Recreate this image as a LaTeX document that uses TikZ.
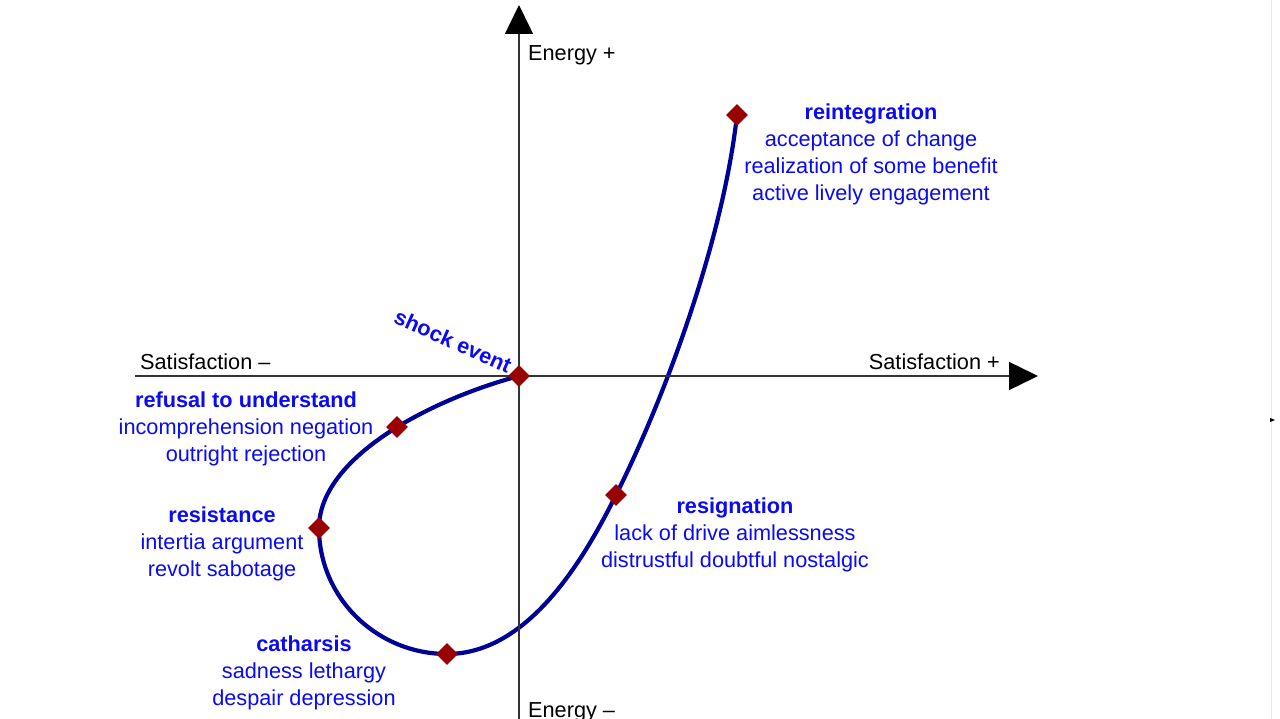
\documentclass[tikz,border=0pt]{standalone}
\usepackage{fontspec}
\setmainfont{Liberation Sans}
\usepackage{tikz}
\usetikzlibrary{positioning,shapes.geometric,arrows.meta,backgrounds}

\definecolor{curveblue}{HTML}{000099}
\definecolor{markred}{HTML}{990000}
\definecolor{textblue}{HTML}{0A0AF5}

\begin{document}
\begin{tikzpicture}[x=1pt,y=-1pt]
                \tikzstyle{axis} = [draw=black!80, line width=1.5pt, -{Triangle[length=29pt,width=28pt,color=black]}]
                \tikzstyle{axislabel} = [font=\fontsize{21.7}{27}\selectfont, inner sep=0pt]
                \tikzstyle{stage} = [diamond, fill=markred, inner sep=0pt, minimum size=22pt]
                \tikzstyle{phase} = [font=\fontsize{21.7}{27}\selectfont, text=textblue, align=center, inner sep=0pt]
                \tikzstyle{curve} = [draw=curveblue, line width=4.2pt]
                \useasboundingbox (0,0) rectangle (1280,719);
                \draw[black!8, line width=1pt] (1271,0) -- (1271,719);
                \fill[black] (1270,418) -- (1275,420) -- (1270,422) -- cycle;

                % axes
                \draw [axis] (519,719) -- (519,5);
                \draw [axis] (135,376) -- (1038,376);
                \node (eplus) [axislabel, anchor=west] at (528,55) {Energy +};
                \node (eminus) [axislabel, anchor=west] at (528,712) {Energy --};
                \node (sminus) [axislabel, anchor=west] at (140,362) {Satisfaction --};
                \node (splus) [axislabel, anchor=east] at (1000,362) {Satisfaction +};

                % stages
                \node (shock) [stage] at (519,376) {};
                \node (refusal) [stage] at (397,427) {};
                \node (resist) [stage] at (319,528) {};
                \node (cathar) [stage] at (447,654) {};
                \node (resign) [stage] at (616,495) {};
                \node (reint) [stage] at (737,115) {};

                \begin{pgfonlayer}{background}
                \fill[white] (0,0) rectangle (1280,719);
                \draw [curve] (shock.center) .. controls (429,400) and (319,458) .. (resist.center)
                    .. controls (319,598) and (377,654) .. (cathar.center)
                    .. controls (530,654) and (586,555) .. (resign.center)
                    .. controls (666,395) and (723,240) .. (reint.center);
                \end{pgfonlayer}

                % texts
                \node (shocktext) [phase, rotate=-24] at (453,341) {\textbf{shock event}};
                \node (refusaltext) [phase] at (246,429) {\textbf{refusal to understand}\\incomprehension negation\\outright rejection};
                \node (resisttext) [phase] at (222,544) {\textbf{resistance}\\intertia argument\\revolt sabotage};
                \node (cathartext) [phase] at (304,673) {\textbf{catharsis}\\sadness lethargy\\despair depression};
                \node (resigntext) [phase] at (735,535) {\textbf{resignation}\\lack of drive aimlessness\\distrustful doubtful nostalgic};
                \node (reinttext) [phase] at (871,154) {\textbf{reintegration}\\acceptance of change\\realization of some benefit\\active lively engagement};
\end{tikzpicture}
\end{document}
